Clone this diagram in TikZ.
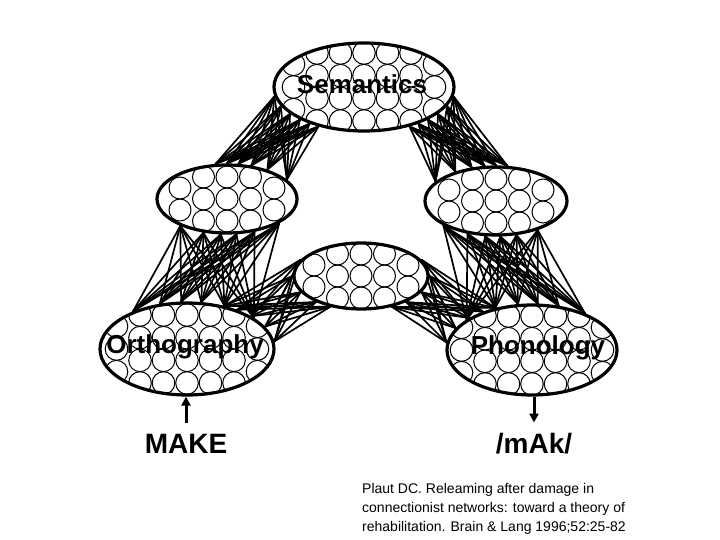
\documentclass[tikz,border=0pt]{standalone}
\usepackage{fontspec}
\setmainfont{Liberation Sans}
\usetikzlibrary{shapes.geometric,arrows.meta}
\pgfdeclarelayer{background}
\pgfsetlayers{background,main}
\begin{document}
\begin{tikzpicture}[x=1pt,y=-1pt,
  pool/.style={ellipse, draw, line width=3.2pt, fill=white, inner sep=0pt},
  unit/.style={line width=1pt},
  link/.style={line width=1.7pt, line cap=round},
  lbl/.style={font=\fontsize{26}{30}\selectfont\bfseries, inner sep=0pt},
  io/.style={font=\fontsize{28}{32}\selectfont\bfseries, inner sep=0pt, anchor=base},
  citeline/.style={font=\fontsize{14}{18}\selectfont, anchor=base west, inner sep=0pt},
  ioarrow/.style={line width=3pt, -{Triangle[length=9pt,width=9pt]}},
  bigpool/.style={pool, path picture={
     \foreach \i in {-2,...,2} \foreach \j in {-34,-11.3,11.3,34}
        {\draw[unit] ([shift={(\i*23.5,\j)}]path picture bounding box.center) circle[radius=11.3];}
     \foreach \i in {-3,3} \foreach \j in {-22.7,0,22.7}
        {\draw[unit] ([shift={(\i*23.5,\j)}]path picture bounding box.center) circle[radius=11.3];}
  }},
  smallpool/.style={pool, path picture={
     \foreach \i in {-1,0,1} \foreach \j in {-22,0,22}
        {\draw[unit] ([shift={(\i*23.5,\j)}]path picture bounding box.center) circle[radius=11];}
     \foreach \i in {-2,2} \foreach \j in {-11,11}
        {\draw[unit] ([shift={(\i*23.5,\j)}]path picture bounding box.center) circle[radius=11];}
  }}
]
\useasboundingbox (0,0) rectangle (720,540);

% pools
\node[bigpool, minimum width=180pt, minimum height=88pt] (sem) at (364,87) {};
\node[smallpool, minimum width=140pt, minimum height=68pt] (lh) at (227,199) {};
\node[smallpool, minimum width=142pt, minimum height=68pt] (rh) at (496,201) {};
\node[smallpool, minimum width=134pt, minimum height=66pt] (mid) at (361,276) {};
\node[bigpool, minimum width=174pt, minimum height=92pt] (orth) at (187,349) {};
\node[bigpool, minimum width=170pt, minimum height=90pt] (phon) at (532,350) {};

% labels
\node[lbl] (semlbl) at (362,84) {Semantics};
\node[lbl] (orthlbl) at (185,347) {Orthography};
\node[lbl] (phonlbl) at (538,348) {Phonology};

% connections
\begin{pgfonlayer}{background}
\fill[white] (0,0) rectangle (720,540);
\foreach \a in {186,193,200,207,214,221} \foreach \b in {18,36,54,72,90,108}
  {\draw[link] (sem.\a) -- (lh.\b);}
\foreach \a in {319,326,333,340,347,354} \foreach \b in {72,90,108,126,144,162}
  {\draw[link] (sem.\a) -- (rh.\b);}
\foreach \a in {210,235,260,285,310,335} \foreach \b in {25,49,73,97,121,145}
  {\draw[link] (lh.\a) -- (orth.\b);}
\foreach \a in {205,229,253,277,301,325} \foreach \b in {35,59,83,107,131,155}
  {\draw[link] (rh.\a) -- (phon.\b);}
\foreach \a in {165,180,195,210,225} \foreach \b in {5,16,27,38,49}
  {\draw[link] (mid.\a) -- (orth.\b);}
\foreach \a in {315,330,345,360,375} \foreach \b in {131,142,153,164,175}
  {\draw[link] (mid.\a) -- (phon.\b);}
\end{pgfonlayer}

% input / output
\node[io] (make) at (186,453) {MAKE};
\node[io] (mak) at (534,453) {/mAk/};
\draw[ioarrow, shorten <=11pt] (make.north) -- (make.north |- orth.south);
\draw[ioarrow, shorten >=10pt] (mak.north |- phon.south) -- (mak.north);

% citation
\node[citeline] (c1) at (362,493) {Plaut DC. Releaming after damage in};
\node[citeline] (c2) at (362,512) {connectionist networks: toward a theory of};
\node[citeline] (c3) at (362,531) {rehabilitation. Brain \& Lang 1996;52:25-82};
\end{tikzpicture}
\end{document}
